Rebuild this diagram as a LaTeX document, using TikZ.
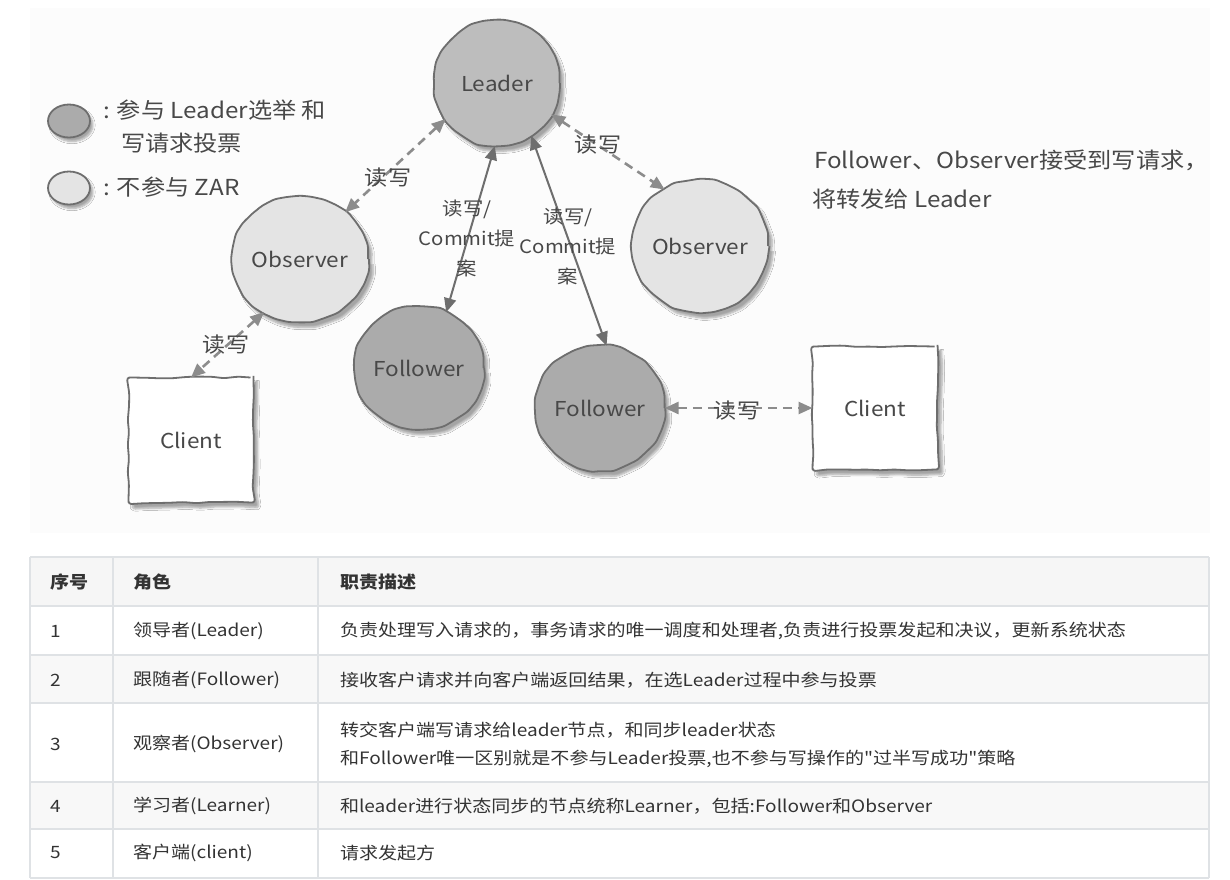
\documentclass[tikz,border=0pt]{standalone}
\usepackage{fontspec}
\setmainfont[FakeStretch=1.1]{Noto Sans CJK SC}
\newfontfamily\tabfont[FakeStretch=1.12]{Noto Sans CJK SC}
\usetikzlibrary{arrows.meta,shapes.geometric,decorations.pathmorphing,shadows.blur}

\definecolor{ink}{HTML}{484848}
\definecolor{edgegray}{HTML}{6E6E6E}
\definecolor{linkgray}{HTML}{8C8C8C}
\definecolor{darkfill}{HTML}{ABABAB}
\definecolor{leaderfill}{HTML}{BDBDBD}
\definecolor{lightfill}{HTML}{E4E4E4}
\definecolor{canvas}{HTML}{FCFCFC}
\definecolor{rulecol}{HTML}{DFE2E5}
\definecolor{headfill}{HTML}{F6F6F6}
\definecolor{stripe}{HTML}{F8F8F8}
\definecolor{bodytext}{HTML}{333333}

\begin{document}
\pgfmathsetseed{11}
\begin{tikzpicture}[x=1pt,y=-1pt,
  every node/.style={inner sep=0pt,outer sep=0pt},
  sketch/.style={draw=edgegray,line width=1.8pt,
    decorate,decoration={random steps,segment length=13pt,amplitude=1pt},
    rounded corners=3pt,
    blur shadow={shadow xshift=4pt,shadow yshift=-5pt,shadow blur steps=6,shadow opacity=35}},
  role/.style={sketch,ellipse,text=ink,font=\fontsize{20.5}{24}\selectfont},
  box/.style={sketch,rectangle,fill=white,text=ink,font=\fontsize{20.5}{24}\selectfont},
  legenddot/.style={draw=edgegray,line width=1.8pt,ellipse,minimum width=42pt,minimum height=33pt,
    blur shadow={shadow xshift=3pt,shadow yshift=-4pt,shadow blur steps=5,shadow opacity=35}},
  lbl/.style={text=ink,font=\fontsize{21}{30}\selectfont,align=center},
  smalllbl/.style={lbl,font=\fontsize{18.5}{30}\selectfont},
  note/.style={text=ink,font=\fontsize{22}{26}\selectfont,anchor=west},
  dashlink/.style={draw=linkgray,line width=2.6pt,dash pattern=on 9pt off 6pt,{Triangle[length=14pt,width=12pt]}-{Triangle[length=14pt,width=12pt]}},
  solidlink/.style={draw=edgegray,line width=2pt,{Triangle[length=14pt,width=12pt]}-{Triangle[length=14pt,width=12pt]}},
  cell/.style={anchor=west,text=bodytext,font=\tabfont\fontsize{17}{20}\selectfont},
  headcell/.style={cell,font=\tabfont\bfseries\fontsize{17}{20}\selectfont},
  tabrule/.style={draw=rulecol,line width=1.6pt}
]
\useasboundingbox (0,0) rectangle (1230,879);

% pale backdrop behind the sketch
\fill[canvas] (30,8) rectangle (1210,533);

% legend
\node[legenddot,fill=darkfill] (lgdark) at (69,121) {};
\node[legenddot,fill=lightfill] (lglight) at (69,188) {};
\node[note] (lgA) at (103,110) {: 参与 Leader选举 和};
\node[note] (lgA2) at (121,143) {写请求投票};
\node[note] (lgB) at (103,187) {: 不参与 ZAR};

% servers and clients
\node[role,fill=leaderfill,minimum width=125pt,minimum height=126pt] (leader) at (497,83) {Leader};
\node[role,fill=lightfill,minimum width=125pt,minimum height=125pt] (obsL) at (300,259) {Observer};
\node[role,fill=lightfill,minimum width=122pt,minimum height=132pt] (obsR) at (700,246) {Observer};
\node[role,fill=darkfill,minimum width=124pt,minimum height=123pt] (fol1) at (419,368) {Follower};
\node[role,fill=darkfill,minimum width=126pt,minimum height=125pt] (fol2) at (600,408) {Follower};
\node[box,minimum width=125pt,minimum height=125pt] (cliL) at (191,440) {Client};
\node[box,minimum width=125pt,minimum height=123pt] (cliR) at (875,408) {Client};

% read / write links
\draw[dashlink] (leader.215) -- (obsL.46);
\draw[dashlink] (leader.-30) -- (obsR.122);
\draw[solidlink] (leader.-92) -- (fol1.64);
\draw[solidlink] (leader.-57) -- (fol2.84);
\draw[dashlink] (obsL.236) -- (cliL.north);
\draw[dashlink] (fol2.east) -- (cliR.west);

% link labels
\node[lbl] (tOL) at (388,178) {读写};
\node[lbl] (tOR) at (598,145) {读写};
\node[smalllbl] (tF1) at (467,238) {读写/\\Commit提\\案};
\node[smalllbl] (tF2) at (568,246) {读写/\\Commit提\\案};
\node[lbl] (tCL) at (226,345) {读写};
\node[lbl] (tCR) at (737,411) {读写};

% side remark
\node[note] (remark1) at (814,160) {Follower、Observer接受到写请求，};
\node[note] (remark2) at (812,199) {将转发给 Leader};

% role table
\fill[headfill] (30,557) rectangle (1209,606);
\fill[stripe] (30,655) rectangle (1209,703);
\fill[stripe] (30,782) rectangle (1209,829);
\foreach \yy in {557,606,655,703,782,829,878}
  \draw[tabrule] (30,\yy) -- (1209,\yy);
\foreach \xx in {30,113,318,1209}
  \draw[tabrule] (\xx,557) -- (\xx,878);

\node[headcell] (h1) at (50,582) {序号};
\node[headcell] (h2) at (133,582) {角色};
\node[headcell] (h3) at (340,582) {职责描述};

\node[cell] (n1) at (50,631) {1};
\node[cell] (r1) at (133,631) {领导者(Leader)};
\node[cell] (d1) at (340,631) {负责处理写入请求的，事务请求的唯一调度和处理者,负责进行投票发起和决议，更新系统状态};

\node[cell] (n2) at (50,680) {2};
\node[cell] (r2) at (133,680) {跟随者(Follower)};
\node[cell] (d2) at (340,680) {接收客户请求并向客户端返回结果，在选Leader过程中参与投票};

\node[cell] (n3) at (50,744) {3};
\node[cell] (r3) at (133,744) {观察者(Observer)};
\node[cell] (d3a) at (340,730) {转交客户端写请求给leader节点，和同步leader状态};
\node[cell] (d3b) at (340,759) {和Follower唯一区别就是不参与Leader投票,也不参与写操作的"过半写成功"策略};

\node[cell] (n4) at (50,806) {4};
\node[cell] (r4) at (133,806) {学习者(Learner)};
\node[cell] (d4) at (340,806) {和leader进行状态同步的节点统称Learner，包括:Follower和Observer};

\node[cell] (n5) at (50,853) {5};
\node[cell] (r5) at (133,853) {客户端(client)};
\node[cell] (d5) at (340,853) {请求发起方};
\end{tikzpicture}
\end{document}
